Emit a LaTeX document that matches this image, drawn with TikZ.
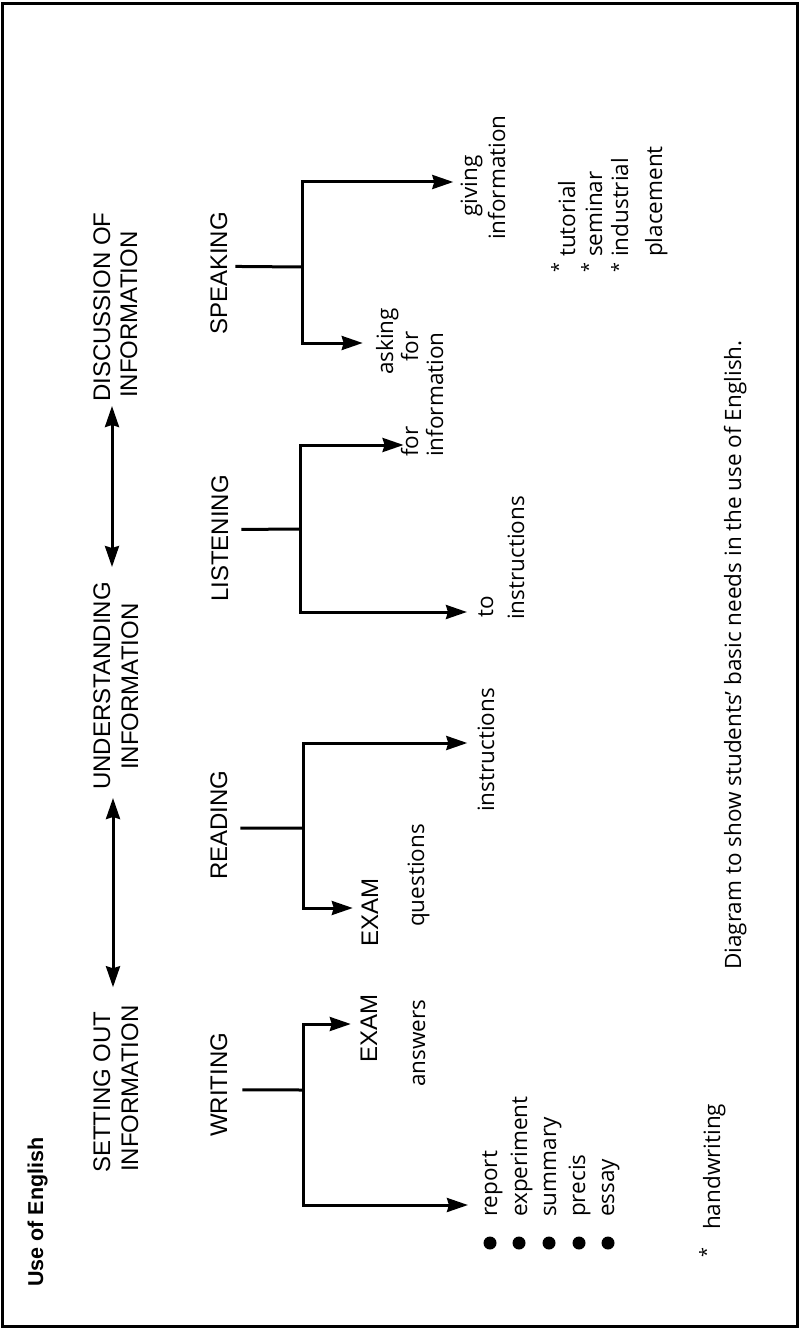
\documentclass[tikz,border=0pt]{standalone}
\usepackage{fontspec}
\newfontfamily\capsfont{Liberation Sans}
\newfontfamily\lcfont{Open Sans}
\usetikzlibrary{arrows.meta}
\begin{document}
\begin{tikzpicture}[x=1pt,y=-1pt,
  capslabel/.style={rotate=90,inner sep=0pt,anchor=base west,font=\capsfont\fontsize{24}{28}\selectfont},
  lclabel/.style={rotate=90,inner sep=0pt,anchor=base west,font=\lcfont\fontsize{22.5}{27}\selectfont},
  titletext/.style={rotate=90,inner sep=0pt,anchor=base west,font=\capsfont\bfseries\fontsize{21.5}{26}\selectfont},
  conn/.style={line width=3pt},
  arr/.style={conn,-{Stealth[length=21pt,width=14pt,inset=2pt]}},
  dbl/.style={line width=3pt,{Stealth[length=21pt,width=14pt,inset=2pt]}-{Stealth[length=21pt,width=14pt,inset=2pt]}},
  bulletdot/.style={circle,fill=black,inner sep=0pt,minimum size=13pt},
  starmark/.style={rotate=90,inner sep=0pt,anchor=north,font=\lcfont\fontsize{18}{21}\selectfont}
]
\useasboundingbox (0,0) rectangle (803,1329);
\draw[line width=3pt] (2.5,3.5) rectangle (797.5,1326.5);

% title
\node[titletext] (title) at (43,1287) {Use of English};

% group labels
\node[capslabel] (set1) at (110,1173) {SETTING OUT};
\node[capslabel] (set2) at (138,1172) {INFORMATION};
\node[capslabel] (und1) at (110,790) {UNDERSTANDING};
\node[capslabel] (und2) at (138,770) {INFORMATION};
\node[capslabel] (dis1) at (110,402) {DISCUSSION OF};
\node[capslabel] (dis2) at (137,398) {INFORMATION};

\draw[dbl] ([shift={(3,-24)}]set1.base east) -- ([shift={(3,8)}]und1.base west);
\draw[dbl] ([shift={(2,-15)}]und1.base east) -- ([shift={(2,4)}]dis1.base west);

% skills
\node[capslabel] (writing) at (227,1137) {WRITING};
\node[capslabel] (reading) at (227,880) {READING};
\node[capslabel] (listening) at (228,602) {LISTENING};
\node[capslabel] (speaking) at (227,335) {SPEAKING};

% writing branch
\node[capslabel] (wexam) at (377,1063) {EXAM};
\node[lclabel] (wans) at (425,1087) {answers};
\node[lclabel] (rep) at (497,1217) {report};
\node[lclabel] (expt) at (527,1217) {experiment};
\node[lclabel] (summ) at (556,1217) {summary};
\node[lclabel] (prec) at (585,1217) {precis};
\node[lclabel] (ess) at (614,1217) {essay};
\node[bulletdot] (b1) at (490,1243) {};
\node[bulletdot] (b2) at (519,1243) {};
\node[bulletdot] (b3) at (549,1243) {};
\node[bulletdot] (b4) at (579,1243) {};
\node[bulletdot] (b5) at (608,1243) {};
\node[starmark] (star0) at (699,1253) {*};
\node[lclabel] (hand) at (720,1230) {handwriting};

\coordinate (wj) at (303,1090);
\coordinate (wtop) at (303,1024);
\coordinate (wbot) at (303,1205);
\draw[conn] ([shift={(15,5)}]writing.south) -- (wj);
\draw[arr,shorten >=9.5pt] (wj) -- (wtop) -- (wtop -| wexam.north);
\draw[arr,shorten >=14pt] (wj) -- (wbot) -- (wbot -| rep.north);

% reading branch
\node[capslabel] (rexam) at (378,947) {EXAM};
\node[lclabel] (rquest) at (424,927) {questions};
\node[lclabel] (rinstr) at (494,812) {instructions};
\coordinate (rj) at (303,828);
\coordinate (rtop) at (303,743);
\coordinate (rbot) at (303,908);
\draw[conn] ([shift={(13,3)}]reading.south) -- (rj);
\draw[arr,shorten >=8.5pt] (rj) -- (rbot) -- (rbot -| rexam.north);
\draw[arr,shorten >=10pt] (rj) -- (rtop) -- (rtop -| rinstr.north);

% listening branch
\node[lclabel] (lto) at (493,618) {to};
\node[lclabel] (linstr) at (524,620) {instructions};
\node[lclabel] (lfor) at (418,457) {for};
\node[lclabel] (info) at (443,457) {information};
\coordinate (lj) at (300,529);
\coordinate (ltop) at (300,445);
\coordinate (lbot) at (300,612);
\draw[conn] ([shift={(13,-9)}]listening.south) -- (lj);
\draw[arr,shorten >=-3pt] (lj) -- (ltop) -- (ltop -| lfor.north);
\draw[arr,shorten >=11pt] (lj) -- (lbot) -- (lbot -| lto.north);

% speaking branch
\node[lclabel] (ask) at (393,375) {asking};
\node[lclabel] (sfor) at (418,362) {for};
\node[lclabel] (giving) at (477,217) {giving};
\node[lclabel] (ginfo) at (505,240) {information};
\coordinate (sj) at (302,267);
\coordinate (stop) at (302,182);
\coordinate (sbot) at (302,343);
\draw[conn] ([shift={(8,-7)}]speaking.south) -- (sj);
\draw[arr,shorten >=13pt] (sj) -- (sbot) -- (sbot -| ask.north);
\draw[arr,shorten >=7pt] (sj) -- (stop) -- (stop -| giving.north);

% speaking contexts
\node[starmark] (st1) at (551,268) {*};
\node[starmark] (st2) at (581,268) {*};
\node[starmark] (st3) at (611,268) {*};
\node[lclabel] (tut) at (575,257) {tutorial};
\node[lclabel] (sem) at (602,257) {seminar};
\node[lclabel] (ind) at (628,257) {industrial};
\node[lclabel] (plac) at (662,257) {placement};

% caption
\node[lclabel] (caption) at (741,970) {Diagram to show students’ basic needs in the use of English.};
\end{tikzpicture}
\end{document}
